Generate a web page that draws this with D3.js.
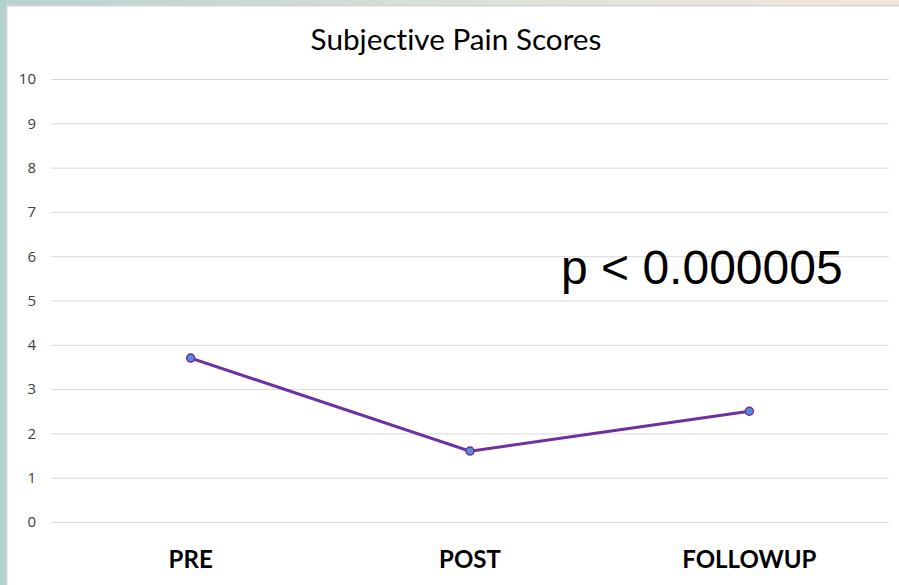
<!DOCTYPE html>
<html><head><meta charset="utf-8">
<script src="https://cdn.jsdelivr.net/npm/d3@7"></script>
<style>html,body{margin:0;padding:0;background:#fff;overflow:hidden} text{font-variant-ligatures:none}</style>
</head><body><svg id="chart" width="899" height="585"></svg>
<script>
const categories = ["PRE", "POST", "FOLLOWUP"];
const painScores = [3.7, 1.6, 2.5];
const yTicks = [0, 1, 2, 3, 4, 5, 6, 7, 8, 9, 10];
const titleText = "Subjective Pain Scores";
const annotation = "p < 0.000005";

const svg = d3.select("#chart");
const W = 899, H = 585;
const defs = svg.append("defs");
const tg = defs.append("linearGradient").attr("id","topg").attr("x1","0").attr("x2","1");
tg.append("stop").attr("offset","0").attr("stop-color","#b9d2d0");
tg.append("stop").attr("offset","0.6").attr("stop-color","#dfe3da");
tg.append("stop").attr("offset","1").attr("stop-color","#f2e6da");
svg.append("rect").attr("x",0).attr("y",0).attr("width",W).attr("height",H).attr("fill","#fff");
svg.append("rect").attr("x",0).attr("y",0).attr("width",W).attr("height",5).attr("fill","url(#topg)");
svg.append("rect").attr("x",6).attr("y",5).attr("width",W-6).attr("height",1.5).attr("fill","#d4d4d4");
svg.append("rect").attr("x",0).attr("y",0).attr("width",6).attr("height",H).attr("fill","#b3cfce");
svg.append("rect").attr("x",6).attr("y",5).attr("width",1.5).attr("height",H).attr("fill","#d8d8d8");

const x = d3.scaleBand().domain(categories).range([51, 889]);
const y = d3.scaleLinear().domain([0, 10]).range([522, 79]);

const yAxis = svg.append("g").attr("transform","translate(51,0)")
  .call(d3.axisLeft(y).tickValues(yTicks).tickSize(-838).tickPadding(15).tickFormat(d3.format("d")));
yAxis.select(".domain").remove();
yAxis.selectAll("line").attr("stroke","#d9d9d9").attr("stroke-width",1);
yAxis.selectAll("text").attr("fill","#404040").attr("font-family","'Open Sans', Lato, sans-serif").attr("font-size",15);

const xAxis = svg.append("g").attr("transform","translate(0,522)")
  .call(d3.axisBottom(x).tickSize(0).tickPadding(29));
xAxis.select(".domain").remove();
xAxis.selectAll("text").attr("fill","#000").attr("font-family","Lato, 'Open Sans', sans-serif")
  .attr("font-weight","bold").attr("font-size",24);

svg.append("text").attr("x",456).attr("y",50).attr("text-anchor","middle")
  .attr("font-family","Lato, 'Open Sans', sans-serif").attr("font-size",29.7).attr("fill","#000").text(titleText);

const line = d3.line().x((d,i)=>x(categories[i])+x.bandwidth()/2).y(d=>y(d));
svg.append("path").datum(painScores).attr("d",line).attr("fill","none")
  .attr("stroke","#7030a0").attr("stroke-width",3);
svg.selectAll("circle.pt").data(painScores).enter().append("circle").attr("class","pt")
  .attr("cx",(d,i)=>x(categories[i])+x.bandwidth()/2).attr("cy",d=>y(d)).attr("r",4)
  .attr("fill","#5b8ad6").attr("stroke","#7030a0").attr("stroke-width",1.5);

svg.append("text").attr("x",561).attr("y",284)
  .attr("font-family","'Liberation Sans', Arial, sans-serif").attr("font-size",48).attr("fill","#000").text(annotation);
</script></body></html>
